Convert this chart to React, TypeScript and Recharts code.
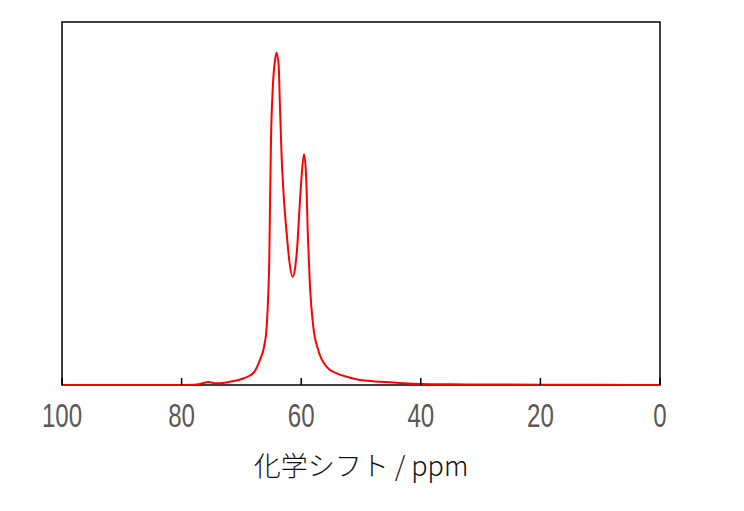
import { LineChart, Line, XAxis, YAxis, ReferenceArea } from 'recharts'

// chemical shift (ppm) and relative intensity
const shifts = [
  100, 90, 80, 78, 76.9, 75.5, 74.5, 73.6, 71.9, 69.7, 68, 66.9, 66.2, 65.77, 65.5, 65.33,
  65.22, 65.05, 64.77, 64.38, 64.1, 63.76, 63.55, 63.27, 62.88, 62.43, 62.0, 61.42, 60.99,
  60.66, 60.33, 59.98, 59.53, 59.2, 58.86, 58.53, 57.98, 57.14, 55.74, 54.07, 52.39, 50.17,
  49, 46, 43, 40, 35, 30, 20, 10, 0,
]
const intensity = [
  0, 0, 0, 0.1, 0.3, 0.8, 0.5, 0.45, 0.9, 1.8, 3.3, 6.9, 10.6, 16.1, 25.3, 35.3,
  49.1, 67.5, 81.3, 89.5, 91.5, 87.7, 76.7, 62.9, 51, 41.8, 34.4, 29.8, 32.6,
  38.1, 47.4, 56.5, 63.6, 58.4, 39.9, 27.1, 16.1, 9.6, 5.0, 3.2, 2.3, 1.4,
  1.2, 0.8, 0.5, 0.3, 0.2, 0.15, 0.1, 0.05, 0,
]
const xTicks = [0, 20, 40, 60, 80, 100]

const data = shifts.map((ppm, i) => ({ ppm, value: intensity[i] }))

const AXIS_Y = 377

const Tick = (props: any) => {
  const { x, payload } = props
  return (
    <g>
      <line x1={x} x2={x} y1={AXIS_Y} y2={AXIS_Y - 7} stroke="#000" strokeWidth={1.5} />
      <text
        transform={`translate(${x}, ${AXIS_Y + 42}) scale(0.73, 1)`}
        textAnchor="middle"
        fill="#595959"
        fontSize={33}
        fontFamily="'Liberation Sans', Arial, sans-serif"
      >
        {payload.value}
      </text>
    </g>
  )
}

export default function App() {
  return (
    <div style={{ width: 728, height: 495, position: 'relative' }}>
      <LineChart
        width={728}
        height={495}
        data={data}
        margin={{ top: 14, right: 76, bottom: 28, left: 54 }}
      >
        <XAxis
          dataKey="ppm"
          type="number"
          domain={[0, 100]}
          ticks={xTicks}
          reversed
          height={90}
          tickSize={0}
          tickMargin={0}
          tickLine={false}
          tick={<Tick />}
          axisLine={false}
          interval={0}
        />
        <YAxis domain={[0, 100]} hide />
        <ReferenceArea
          x1={100}
          x2={0}
          y1={0}
          y2={100}
          fill="none"
          stroke="#000"
          strokeWidth={1.5}
          ifOverflow="visible"
        />
        <Line
          type="monotone"
          dataKey="value"
          stroke="#ff0000"
          strokeWidth={2}
          dot={false}
          isAnimationActive={false}
        />
      </LineChart>
      <div
        style={{
          position: 'absolute',
          left: 54,
          width: 598,
          top: 437,
          textAlign: 'center',
          fontSize: 27,
          color: '#111',
          fontFamily: "'Noto Sans CJK JP', 'Noto Sans', sans-serif",
          fontWeight: 300,
        }}
      >
        化学シフト / ppm
      </div>
    </div>
  )
}
